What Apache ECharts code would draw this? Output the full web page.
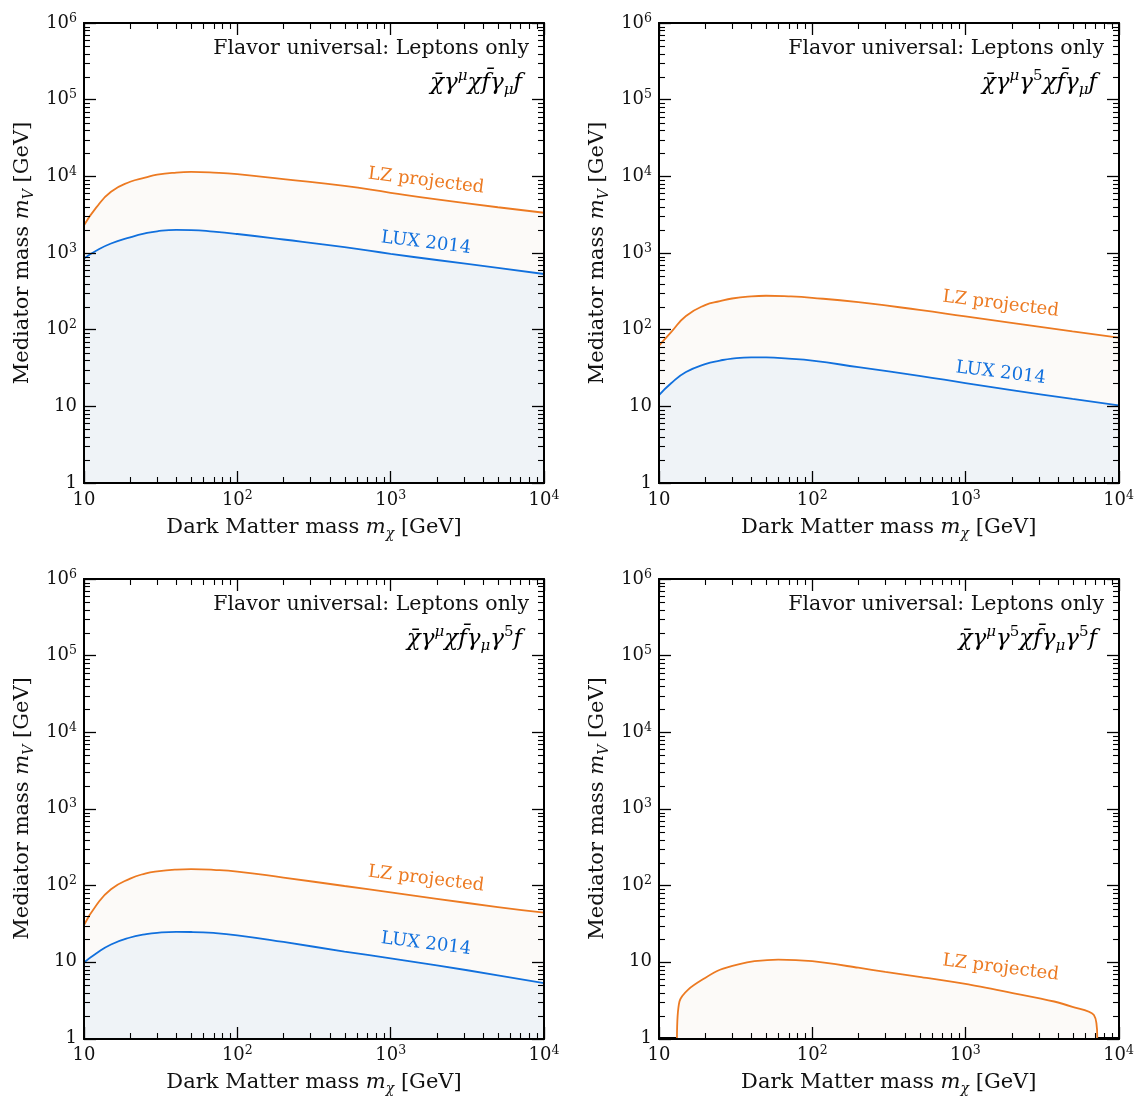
<!DOCTYPE html>
<html>
<head>
<meta charset="utf-8">
<script src="https://cdn.jsdelivr.net/npm/echarts@6/dist/echarts.min.js"></script>
<style>
  html, body { margin: 0; padding: 0; background: #ffffff; }
  #wrap { position: relative; width: 1137px; height: 1097px; }
  #chart, #frame { position: absolute; left: 0; top: 0; width: 1137px; height: 1097px; }
  #frame { pointer-events: none; }
</style>
</head>
<body>
<div id="wrap">
  <div id="chart"></div>
  <div id="frame"></div>
</div>
<script>
// Dark matter mass samples [GeV]
const massPoints = [10, 12, 15, 20, 25, 30, 40, 50, 70, 100, 200, 500, 1000, 2000, 5000, 10000];

// Vector DM, vector lepton current
const lzVecVec  = [2300, 3900, 6300, 8500, 9600, 10500, 11200, 11400, 11200, 10700, 9200, 7500, 6100, 5000, 3950, 3350];
const luxVecVec = [850, 1070, 1330, 1600, 1800, 1920, 2000, 1990, 1900, 1770, 1500, 1190, 975, 810, 640, 532];

// Axial DM, vector lepton current
const lzAxVec  = [62, 93, 151, 209, 235, 255, 272, 277, 272, 260, 228, 181, 149, 123, 95, 78.5];
const luxAxVec = [14, 20, 28, 35.5, 39.5, 42, 43.6, 43.4, 41.8, 39.4, 32.5, 25, 20.1, 16.3, 12.5, 10.3];

// Vector DM, axial lepton current
const lzVecAx  = [30, 54, 88, 121, 141, 151, 159, 161, 158, 150, 125, 97, 80, 66, 51.5, 43.5];
const luxVecAx = [9.7, 12.7, 16.7, 20.6, 22.6, 23.7, 24.4, 24.3, 23.6, 22.0, 18.0, 13.5, 11.0, 8.9, 6.6, 5.2];

// Axial DM, axial lepton current (LZ only, closes at both ends)
const massAxAx = [13.1, 13.6, 15.5, 20, 25, 33, 42, 60, 100, 200, 300, 500, 1000, 2000, 3800, 5000, 6900, 7260];
const lzAxAx   = [1, 3.0, 4.3, 6.1, 7.8, 9.2, 10.1, 10.6, 10.1, 8.3, 7.3, 6.3, 5.1, 3.9, 3.0, 2.55, 2.0, 1];

// Axis tick labels (decade exponents)
const xTickLabels = { 1: '10', 2: '10{sup|2}', 3: '10{sup|3}', 4: '10{sup|4}' };
const yTickLabels = { 0: '1', 1: '10', 2: '10{sup|2}', 3: '10{sup|3}', 4: '10{sup|4}', 5: '10{sup|5}', 6: '10{sup|6}' };

// Panel texts
const panelTitle = 'Flavor universal: Leptons only';
const operators = [
  '{i|χ̄γ}{sup|μ}{i|χf̄γ}{sub|μ}{i|f}',
  '{i|χ̄γ}{sup|μ}{i|γ}{up|5}{i|χf̄γ}{sub|μ}{i|f}',
  '{i|χ̄γ}{sup|μ}{i|χf̄γ}{sub|μ}{i|γ}{up|5}{i|f}',
  '{i|χ̄γ}{sup|μ}{i|γ}{up|5}{i|χf̄γ}{sub|μ}{i|γ}{up|5}{i|f}'
];
const lzLabel = 'LZ projected';
const luxLabel = 'LUX 2014';

// Curve-label anchors [mass, mediator mass]
const lzLabelAt  = [[1700, 8700], [1700, 216], [1700, 120], [1700, 8.26]];
const luxLabelAt = [[1700, 1350], [1700, 27.2], [1700, 17], null];

const panelData = [
  { mass: massPoints, lz: lzVecVec, lux: luxVecVec },
  { mass: massPoints, lz: lzAxVec,  lux: luxAxVec },
  { mass: massPoints, lz: lzVecAx,  lux: luxVecAx },
  { mass: massAxAx,   lz: lzAxAx,   lux: null }
];

// ---- layout & style ----
const gridPos = [
  { left: 84, top: 23 }, { left: 659, top: 23 },
  { left: 84, top: 579 }, { left: 659, top: 579 }
];
const SIZE = 460;
const X_MIN = 10, X_MAX = 10000, Y_MIN = 1, Y_MAX = 1000000;
const SERIF = '"DejaVu Serif", "Liberation Serif", serif';
const ORANGE = '#ec7a22';
const BLUE = '#1170dd';
const LZ_FILL = '#fcfaf8';
const LUX_FILL = '#eff3f7';
const MAJOR_LEN = 12, MINOR_LEN = 6;

const tickRich = {
  sup: { fontFamily: SERIF, fontSize: 12.5, lineHeight: 13, verticalAlign: 'top', color: '#111' }
};
const mathRich = {
  i:   { fontFamily: SERIF, fontStyle: 'italic', fontSize: 23, lineHeight: 29, color: '#222' },
  sup: { fontFamily: SERIF, fontStyle: 'italic', fontSize: 15, lineHeight: 14, verticalAlign: 'top', color: '#222' },
  up:  { fontFamily: SERIF, fontSize: 15, lineHeight: 14, verticalAlign: 'top', color: '#222' },
  sub: { fontFamily: SERIF, fontStyle: 'italic', fontSize: 15, lineHeight: 14, verticalAlign: 'bottom', color: '#222' }
};
const nameRich = {
  i:   { fontFamily: SERIF, fontStyle: 'italic', fontSize: 21, lineHeight: 26, color: '#111' },
  sub: { fontFamily: SERIF, fontStyle: 'italic', fontSize: 14, lineHeight: 12, verticalAlign: 'bottom', color: '#111' }
};

function expOf(v) { return Math.round(Math.log10(v)); }

// Axis skeleton shared by the plot and the frame layer
function logAxis(kind, pos, gridIndex) {
  const isX = kind === 'x';
  return {
    type: 'log',
    logBase: 10,
    gridIndex: gridIndex,
    position: pos,
    min: isX ? X_MIN : Y_MIN,
    max: isX ? X_MAX : Y_MAX,
    interval: 1,
    axisLine: { show: true, onZero: false, lineStyle: { color: '#000', width: 2 } },
    axisTick: { show: false },
    splitLine: { show: false },
    axisLabel: { show: false }
  };
}

function labelledAxis(kind, gridIndex) {
  const isX = kind === 'x';
  const ax = logAxis(kind, isX ? 'bottom' : 'left', gridIndex);
  ax.axisLabel = {
    show: true,
    margin: isX ? 6 : 7,
    fontFamily: SERIF,
    fontSize: 18,
    lineHeight: 22,
    color: '#111',
    rich: tickRich,
    formatter: v => (isX ? xTickLabels : yTickLabels)[expOf(v)] || ''
  };
  ax.nameLocation = 'middle';
  ax.nameTextStyle = { fontFamily: SERIF, fontSize: 21, color: '#111', rich: nameRich };
  if (isX) {
    ax.name = 'Dark Matter mass {i|m}{sub|χ} [GeV]';
    ax.nameGap = 32;
  } else {
    ax.name = 'Mediator mass {i|m}{sub|V} [GeV]';
    ax.nameGap = 48;
  }
  return ax;
}

// ================= plot layer: curves, fills, labels =================
const grids = [], xAxes = [], yAxes = [], series = [], textEls = [];

panelData.forEach((pd, i) => {
  const g = gridPos[i];
  grids.push({ left: g.left, top: g.top, width: SIZE, height: SIZE, show: false });
  xAxes.push(labelledAxis('x', i));
  yAxes.push(labelledAxis('y', i));

  series.push({
    type: 'line', name: lzLabel, xAxisIndex: i, yAxisIndex: i,
    data: pd.mass.map((m, k) => [m, pd.lz[k]]),
    showSymbol: false, symbol: 'none',
    smooth: i === 3 ? 0.3 : 0.5,
    lineStyle: { color: ORANGE, width: 1.8 },
    areaStyle: { color: LZ_FILL, opacity: 1, origin: 'start' },
    z: 2, animation: false
  });
  if (pd.lux) {
    series.push({
      type: 'line', name: luxLabel, xAxisIndex: i, yAxisIndex: i,
      data: pd.mass.map((m, k) => [m, pd.lux[k]]),
      showSymbol: false, symbol: 'none',
      smooth: 0.5,
      lineStyle: { color: BLUE, width: 1.8 },
      areaStyle: { color: LUX_FILL, opacity: 1, origin: 'start' },
      z: 3, animation: false
    });
  }

  textEls.push({
    type: 'text', x: g.left + SIZE - 15, y: g.top + 26, z: 10,
    style: { text: panelTitle, fontFamily: SERIF, fontSize: 20.5, fill: '#111', align: 'right', verticalAlign: 'middle' }
  });
  textEls.push({
    type: 'text', x: g.left + SIZE - 22, y: g.top + 60, z: 10,
    style: { text: operators[i], rich: mathRich, align: 'right', verticalAlign: 'middle' }
  });
});

const chart = echarts.init(document.getElementById('chart'), null, { renderer: 'canvas' });
chart.setOption({
  animation: false,
  backgroundColor: '#ffffff',
  grid: grids,
  xAxis: xAxes,
  yAxis: yAxes,
  series: series
});

const tilt = -7 * Math.PI / 180;
panelData.forEach((pd, i) => {
  const finder = { xAxisIndex: i, yAxisIndex: i };
  const a = chart.convertToPixel(finder, lzLabelAt[i]);
  textEls.push({
    type: 'text', x: a[0], y: a[1], rotation: tilt, z: 10,
    style: { text: lzLabel, fontFamily: SERIF, fontSize: 18, fill: ORANGE, align: 'center', verticalAlign: 'middle' }
  });
  if (luxLabelAt[i]) {
    const b = chart.convertToPixel(finder, luxLabelAt[i]);
    textEls.push({
      type: 'text', x: b[0], y: b[1], rotation: tilt, z: 10,
      style: { text: luxLabel, fontFamily: SERIF, fontSize: 18, fill: BLUE, align: 'center', verticalAlign: 'middle' }
    });
  }
});
chart.setOption({ graphic: textEls });

// ================= frame layer: box and inward ticks on all sides =================
const fGrids = [], fX = [], fY = [];
gridPos.forEach((g, i) => {
  fGrids.push({ left: g.left, top: g.top, width: SIZE, height: SIZE, show: false });
  ['bottom', 'top'].forEach(pos => {
    const ax = logAxis('x', pos, i);
    ax.axisTick = { show: true, inside: true, length: MAJOR_LEN, lineStyle: { color: '#000', width: 1.3 } };
    fX.push(ax);
  });
  ['left', 'right'].forEach(pos => {
    const ax = logAxis('y', pos, i);
    ax.axisTick = { show: true, inside: true, length: MAJOR_LEN, lineStyle: { color: '#000', width: 1.3 } };
    fY.push(ax);
  });
});

const frame = echarts.init(document.getElementById('frame'), null, { renderer: 'canvas' });
frame.setOption({
  animation: false,
  grid: fGrids,
  xAxis: fX,
  yAxis: fY,
  series: []
});

// short ticks at the 2..9 subdivisions of every decade
const xMinor = [], yMinor = [];
for (let d = 1; d <= 3; d++) for (let k = 2; k <= 9; k++) xMinor.push(k * Math.pow(10, d));
for (let d = 0; d <= 5; d++) for (let k = 2; k <= 9; k++) yMinor.push(k * Math.pow(10, d));

function tickLine(x1, y1, x2, y2) {
  return {
    type: 'line', silent: true,
    shape: { x1: x1, y1: y1, x2: x2, y2: y2 },
    style: { stroke: '#000', lineWidth: 1.1 }
  };
}

const minorEls = [];
gridPos.forEach((g, i) => {
  const top = g.top, bottom = g.top + SIZE, left = g.left, right = g.left + SIZE;
  const finder = { xAxisIndex: 2 * i, yAxisIndex: 2 * i };
  xMinor.forEach(v => {
    const p = Math.round(frame.convertToPixel(finder, [v, 100])[0]) + 0.5;
    minorEls.push(tickLine(p, bottom, p, bottom - MINOR_LEN));
    minorEls.push(tickLine(p, top, p, top + MINOR_LEN));
  });
  yMinor.forEach(v => {
    const q = Math.round(frame.convertToPixel(finder, [100, v])[1]) + 0.5;
    minorEls.push(tickLine(left, q, left + MINOR_LEN, q));
    minorEls.push(tickLine(right, q, right - MINOR_LEN, q));
  });
});
frame.setOption({ graphic: minorEls });
</script>
</body>
</html>
